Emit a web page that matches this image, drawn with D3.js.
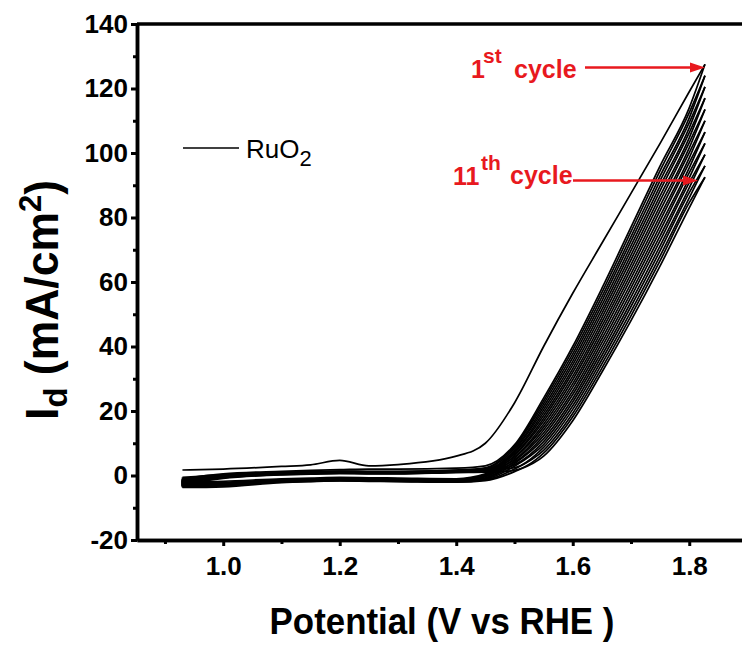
<!DOCTYPE html>
<html>
<head>
<meta charset="utf-8">
<script src="https://cdn.jsdelivr.net/npm/d3@7"></script>
<style>
body { margin: 0; background: #fff; }
text { font-family: "Liberation Sans", Arial, sans-serif; }
</style>
</head>
<body>
<div id="chart"></div>
<script>
// potential grid (V vs RHE) shared by every scan
var potential = [0.93, 1.0, 1.1, 1.15, 1.2, 1.25, 1.3, 1.4, 1.45, 1.5, 1.55, 1.6, 1.65, 1.7, 1.75, 1.8, 1.827];

// anodic (forward) scans, cycle 1..11, current density in mA/cm2
var forwardScans = [
  [1.7, 2.0, 2.8, 3.3, 4.7, 3.0, 3.4, 6.0, 10.0, 22.5, 40, 56.5, 72, 87.5, 103, 119, 127.5],
  [-0.6, 0.3, 1.0, 1.2, 1.4, 1.3, 1.3, 1.7, 2.4, 9.1, 23.1, 38.9, 56.7, 75.6, 94.5, 112.5, 124],
  [-1.0, 0.0, 0.8, 1.0, 1.2, 1.1, 1.1, 1.5, 2.2, 8.3, 21.3, 36.6, 54.1, 72.7, 91.4, 109.4, 120.5],
  [-1.4, -0.2, 0.6, 0.8, 1.0, 0.9, 0.9, 1.3, 1.9, 7.4, 19.5, 34.3, 51.5, 69.8, 88.3, 106.3, 117],
  [-1.8, -0.5, 0.4, 0.6, 0.8, 0.7, 0.7, 1.1, 1.7, 6.6, 17.7, 32.0, 48.9, 66.9, 85.2, 103.2, 113.5],
  [-1.2, 0.1, 0.9, 1.1, 1.3, 1.2, 1.2, 1.6, 1.8, 5.8, 15.9, 29.7, 46.3, 64.0, 82.1, 100.1, 110],
  [-1.6, -0.3, 0.7, 0.9, 1.1, 1.0, 1.0, 1.4, 1.6, 4.9, 14.1, 27.4, 43.7, 61.1, 79.0, 97.0, 106.5],
  [-2.0, -0.4, 0.5, 0.7, 0.9, 0.8, 0.8, 1.2, 1.4, 4.1, 12.3, 25.1, 41.1, 58.2, 75.9, 93.9, 103],
  [-2.4, -0.7, 0.3, 0.5, 0.7, 0.6, 0.6, 1.0, 1.2, 3.3, 10.5, 22.8, 38.5, 55.3, 72.8, 90.8, 99.5],
  [-1.1, 0.0, 0.8, 1.0, 1.2, 1.1, 1.1, 1.5, 1.6, 2.4, 8.7, 20.5, 35.9, 52.4, 69.7, 87.7, 96],
  [-2.8, -0.9, 0.2, 0.4, 0.6, 0.5, 0.5, 0.9, 1.0, 1.6, 6.9, 18.2, 33.3, 49.5, 66.6, 84.6, 92.5]
];

// cathodic (reverse) scans, cycle 1..11
var reverseScans = [
  [-1.0, 0.5, 1.3, 1.6, 1.8, 2.0, 2.0, 2.3, 3.0, 9.5, 24, 40, 58, 77, 96, 114, 127.5],
  [-2.0, -1.8, -1.0, -0.8, -0.6, -0.7, -0.8, -1.0, 0.5, 8.7, 22.2, 37.7, 55.4, 74.1, 92.9, 110.9, 124],
  [-2.4, -2.1, -1.3, -1.0, -0.8, -0.9, -1.0, -1.2, 0.2, 7.8, 20.4, 35.4, 52.8, 71.2, 89.8, 107.8, 120.5],
  [-2.6, -2.3, -1.5, -1.2, -1.0, -1.1, -1.2, -1.4, 0.0, 7.0, 18.6, 33.1, 50.2, 68.3, 86.7, 104.7, 117],
  [-2.8, -2.5, -1.6, -1.3, -1.1, -1.2, -1.3, -1.5, -0.2, 6.2, 16.8, 30.8, 47.6, 65.4, 83.6, 101.6, 113.5],
  [-3.0, -2.7, -1.7, -1.4, -1.2, -1.3, -1.4, -1.6, -0.4, 5.4, 15.0, 28.5, 45.0, 62.5, 80.5, 98.5, 110],
  [-3.1, -2.8, -1.8, -1.5, -1.3, -1.4, -1.5, -1.7, -0.7, 4.5, 13.2, 26.2, 42.4, 59.6, 77.4, 95.4, 106.5],
  [-3.2, -2.9, -1.9, -1.6, -1.4, -1.5, -1.6, -1.8, -0.9, 3.7, 11.4, 23.9, 39.8, 56.7, 74.3, 92.3, 103],
  [-3.3, -3.0, -2.0, -1.7, -1.5, -1.6, -1.7, -1.9, -1.1, 2.9, 9.6, 21.6, 37.2, 53.8, 71.2, 89.2, 99.5],
  [-3.5, -3.2, -2.1, -1.8, -1.6, -1.7, -1.8, -2.0, -1.4, 2.0, 7.8, 19.3, 34.6, 50.9, 68.1, 86.1, 96],
  [-3.7, -3.5, -2.2, -1.9, -1.7, -1.8, -1.9, -2.1, -1.6, 1.2, 6.0, 17.0, 32.0, 48.0, 65.0, 83.0, 92.5]
];

var xTicks = [1.0, 1.2, 1.4, 1.6, 1.8];
var xMinorTicks = [0.9, 1.1, 1.3, 1.5, 1.7, 1.9];
var yTicks = [-20, 0, 20, 40, 60, 80, 100, 120, 140];
var yMinorTicks = [-10, 10, 30, 50, 70, 90, 110, 130];

var width = 742, height = 650;
var red = "#e8191e";

var svg = d3.select("#chart").append("svg")
    .attr("width", width)
    .attr("height", height);

var xScale = d3.scaleLinear().domain([0.852, 1.9]).range([137, 747.5]);
var yScale = d3.scaleLinear().domain([-20, 140]).range([540, 24]);

var line = d3.line()
    .curve(d3.curveMonotoneX)
    .x(function(d) { return xScale(d[0]); })
    .y(function(d) { return yScale(d[1]); });

function toPoints(values) {
    return potential.map(function(v, i) { return [v, values[i]]; });
}

var curves = svg.append("g").attr("class", "curves")
    .attr("fill", "none")
    .attr("stroke", "#000")
    .attr("stroke-width", 1.7);

forwardScans.forEach(function(scan) {
    curves.append("path").attr("d", line(toPoints(scan)));
});
reverseScans.forEach(function(scan, i) {
    curves.append("path").attr("d", line(toPoints(scan)));
    // turn-around at the low potential end, into the next cycle
    var next = forwardScans[i + 1] || forwardScans[i];
    curves.append("path")
        .attr("d", "M" + xScale(potential[0]) + "," + yScale(scan[0]) +
                   "L" + xScale(potential[0]) + "," + yScale(next[0]));
});

// axes
var xAxis = d3.axisBottom(xScale).tickValues(xTicks).tickSize(6).tickSizeOuter(0)
    .tickPadding(11).tickFormat(d3.format(".1f"));
var xMinor = d3.axisBottom(xScale).tickValues(xMinorTicks).tickSize(4).tickSizeOuter(0).tickFormat("");
var yAxis = d3.axisLeft(yScale).tickValues(yTicks).tickSize(6).tickSizeOuter(0).tickPadding(3)
    .tickFormat(function(d) { return String(d); });
var yMinor = d3.axisLeft(yScale).tickValues(yMinorTicks).tickSize(4).tickSizeOuter(0).tickFormat("");

svg.append("g").attr("transform", "translate(0," + yScale(-20) + ")").call(xAxis);
svg.append("g").attr("transform", "translate(0," + yScale(-20) + ")").call(xMinor);
svg.append("g").attr("transform", "translate(" + xScale(0.852) + ",0)").call(yAxis);
svg.append("g").attr("transform", "translate(" + xScale(0.852) + ",0)").call(yMinor);

svg.selectAll(".domain").attr("stroke-width", 3.5);
svg.selectAll(".tick line").attr("stroke-width", 3);
svg.selectAll(".tick text")
    .style("font-size", "26px")
    .style("font-weight", "bold")
    .attr("fill", "#000");

// top frame line
svg.append("line")
    .attr("x1", xScale(0.852)).attr("x2", xScale(1.9))
    .attr("y1", yScale(140)).attr("y2", yScale(140))
    .attr("stroke", "#000").attr("stroke-width", 3.5);

// axis titles
var xTitle = svg.append("text")
    .attr("text-anchor", "middle")
    .style("font-size", "37px").style("font-weight", "bold")
    .text("Potential (V vs RHE )");
var xs = 345 / xTitle.node().getComputedTextLength();
xTitle.attr("transform", "translate(442,634) scale(" + xs + ",1)");

var yTitle = svg.append("text")
    .attr("text-anchor", "middle")
    .style("font-size", "46px").style("font-weight", "bold");
yTitle.append("tspan").text("I");
yTitle.append("tspan").attr("dy", 9).style("font-size", "34px").text("d");
yTitle.append("tspan").attr("dy", -9).text(" (mA/cm");
yTitle.append("tspan").attr("dy", -17).style("font-size", "32px").text("2");
yTitle.append("tspan").attr("dy", 17).text(")");
var ys = 240 / yTitle.node().getComputedTextLength();
yTitle.attr("transform", "translate(58,300) rotate(-90) scale(" + ys + ",1)");

// legend
svg.append("line")
    .attr("x1", 183).attr("x2", 239).attr("y1", 148).attr("y2", 148)
    .attr("stroke", "#000").attr("stroke-width", 1.6);
var leg = svg.append("text").attr("x", 246).attr("y", 158)
    .style("font-size", "26px");
leg.append("tspan").text("RuO");
leg.append("tspan").attr("dy", 8).style("font-size", "22px").text("2");

// cycle annotations
function arrow(x0, tip) {
    var tx = xScale(tip[0]), ty = yScale(tip[1]);
    svg.append("line")
        .attr("x1", x0).attr("x2", tx - 12).attr("y1", ty).attr("y2", ty)
        .attr("stroke", red).attr("stroke-width", 2.5);
    svg.append("path")
        .attr("d", "M" + tx + "," + ty + "L" + (tx - 15) + "," + (ty - 5) + "L" + (tx - 15) + "," + (ty + 5) + "Z")
        .attr("fill", red);
}
function label(x, y, txt, size) {
    svg.append("text").attr("x", x).attr("y", y)
        .attr("fill", red)
        .style("font-size", size + "px").style("font-weight", "bold")
        .text(txt);
}

label(471, 78, "1", 25);
label(483, 63, "st", 21);
label(514, 78, "cycle", 25);
arrow(585, [1.827, 126.5]);

label(453, 185, "11", 25);
label(481, 170, "th", 21);
label(510, 184, "cycle", 25);
arrow(573, [1.815, 91.5]);
</script>
</body>
</html>
